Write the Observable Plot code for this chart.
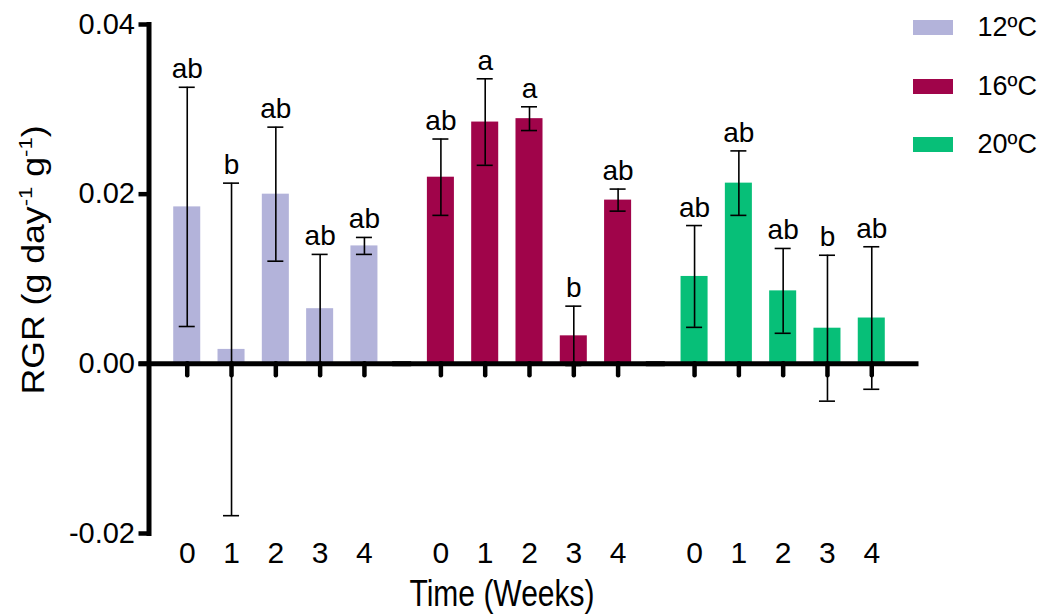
<!DOCTYPE html>
<html><head><meta charset="utf-8">
<script src="https://cdn.jsdelivr.net/npm/d3@7"></script>
<script src="https://cdn.jsdelivr.net/npm/@observablehq/plot@0.6"></script>
<style>
body{margin:0;background:#fff;font-family:Arial,"Liberation Sans",sans-serif;color:#000;}
#wrap{position:relative;width:1040px;height:615px;overflow:hidden;}
#chart{position:absolute;left:0;top:0;}
.xtitle{position:absolute;left:502px;top:578px;font-size:30px;line-height:1;white-space:nowrap;transform:translateX(-50%) scale(1,1.25);}
.ytitle{position:absolute;left:32.5px;top:260px;font-size:31px;line-height:1;white-space:nowrap;transform:translate(-50%,-50%) rotate(-90deg) scale(1.15,1);}
.ytitle sup{font-size:0.62em;vertical-align:0.6em;line-height:0;}
.legrow{position:absolute;left:912.5px;height:30px;display:flex;align-items:center;}
.legrow .sw{width:40px;height:15px;}
.legrow .lb{margin-left:25px;font-size:27px;line-height:1;}
</style></head><body>
<div id="wrap"><div id="chart"></div></div>
<script>
const temps = ["12ºC", "16ºC", "20ºC"];
const weeks = ["0", "1", "2", "3", "4"];
const mean12 = [0.0185, 0.0017, 0.0200, 0.0065, 0.0139];
const sd12   = [0.0141, 0.0196, 0.0079, 0.0064, 0.0010];
const letters12 = ["ab", "b", "ab", "ab", "ab"];
const mean16 = [0.0220, 0.0285, 0.0289, 0.0033, 0.0193];
const sd16   = [0.0045, 0.0051, 0.0014, 0.0035, 0.0013];
const letters16 = ["ab", "a", "a", "b", "ab"];
const mean20 = [0.0103, 0.0213, 0.0086, 0.0042, 0.0054];
const sd20   = [0.0060, 0.0038, 0.0050, 0.0086, 0.0084];
const letters20 = ["ab", "ab", "ab", "b", "ab"];
const colors = ["#b3b3da", "#a0044a", "#07bf78"];
const yTicks = [-0.02, 0, 0.02, 0.04];
const yDomain = [-0.02, 0.04];
const xTitle = "Time (Weeks)";

const means = [mean12, mean16, mean20];
const sds = [sd12, sd16, sd20];
const letters = [letters12, letters16, letters20];
const data = temps.flatMap((t, g) => weeks.map((w, i) => ({
  temp: t, week: w, mean: means[g][i], sd: sds[g][i], letter: letters[g][i]
})));

const plot = Plot.plot({
  width: 1040, height: 615,
  marginLeft: 148.5, marginRight: 130.5, marginTop: 24, marginBottom: 82,
  style: {fontFamily: "Arial, 'Liberation Sans', sans-serif", background: "transparent", overflow: "visible", color: "#000"},
  fx: {domain: temps, paddingInner: 0, paddingOuter: 0, round: false, axis: null, label: null},
  x: {domain: weeks, paddingInner: 0.39, paddingOuter: 0.558, round: false, label: null},
  y: {domain: yDomain, label: null},
  color: {domain: temps, range: colors},
  marks: [
    Plot.barY(data, {fx: "temp", x: "week", y: "mean", fill: "temp"}),
    Plot.ruleY([0], {stroke: "#000", strokeWidth: 5, insetLeft: -10, insetRight: -9, strokeLinecap: "butt"}),
    Plot.ruleX(data, {fx: "temp", x: "week", y1: 0, y2: 0, insetBottom: -12, stroke: "#000", strokeWidth: 4.5, strokeLinecap: "round"}),
    Plot.ruleX(data, {fx: "temp", x: "week", y1: d => d.mean - d.sd, y2: d => d.mean + d.sd, stroke: "#000", strokeWidth: 1.6}),
    Plot.tickY(data, {fx: "temp", x: "week", y: d => d.mean + d.sd, stroke: "#000", strokeWidth: 1.6, insetLeft: 5.5, insetRight: 5.5}),
    Plot.tickY(data, {fx: "temp", x: "week", y: d => d.mean - d.sd, stroke: "#000", strokeWidth: 1.6, insetLeft: 5.5, insetRight: 5.5}),
    Plot.text(data, {fx: "temp", x: "week", y: d => d.mean + d.sd, text: "letter", dy: -9, lineAnchor: "bottom", fontSize: 28, fill: "#000"}),
    Plot.frame({anchor: "left", facetAnchor: "left", stroke: "#000", strokeWidth: 5, strokeLinecap: "square"}),
    Plot.axisY({ticks: yTicks, tickFormat: d => d.toFixed(2), tickSize: 10, tickPadding: 4, fontSize: 29, strokeWidth: 4.5, label: null}),
    Plot.axisX({tickSize: 0, tickPadding: 8, fontSize: 30, label: null})
  ]
});
document.getElementById("chart").appendChild(plot);

const wrap = document.getElementById("wrap");
const xt = document.createElement("div");
xt.className = "xtitle"; xt.textContent = xTitle; wrap.appendChild(xt);
const yt = document.createElement("div");
yt.className = "ytitle"; yt.innerHTML = "RGR (g day<sup>-1</sup> g<sup>-1</sup>)"; wrap.appendChild(yt);
const rowCenters = [27.5, 86, 144];
temps.forEach((t, i) => {
  const r = document.createElement("div");
  r.className = "legrow";
  r.style.top = (rowCenters[i] - 15) + "px";
  const sw = document.createElement("div"); sw.className = "sw"; sw.style.background = colors[i];
  const lb = document.createElement("div"); lb.className = "lb"; lb.textContent = t;
  r.appendChild(sw); r.appendChild(lb); wrap.appendChild(r);
});
</script>
</body></html>
